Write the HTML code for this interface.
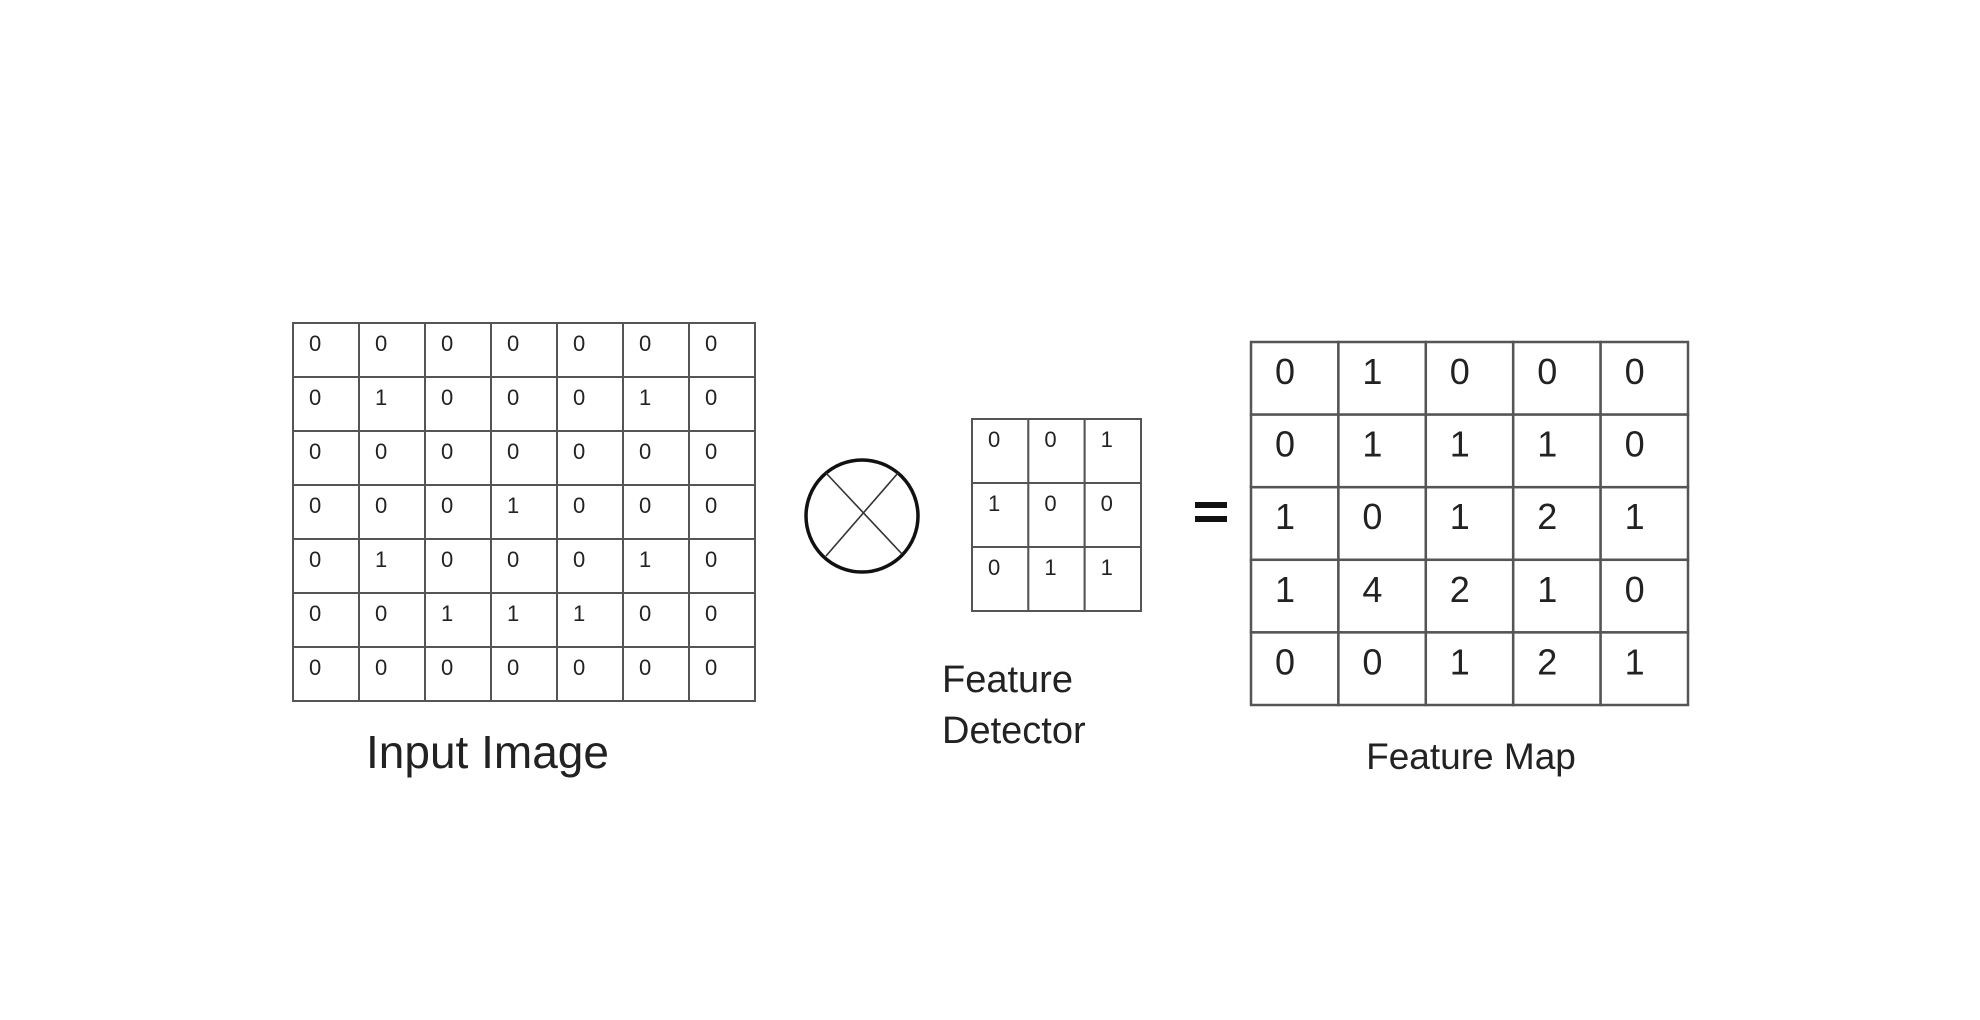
<!DOCTYPE html>
<html><head><meta charset="utf-8"><style>
html,body{margin:0;padding:0;background:#fff;width:1980px;height:1020px;overflow:hidden}
svg{display:block}
text{font-family:"Liberation Sans",sans-serif;fill:#222}
</style></head><body>
<svg id="s" width="1980" height="1020" viewBox="0 0 1980 1020">
<g id="circ">
<circle cx="862" cy="516" r="56" fill="none" stroke="#111" stroke-width="3.5"/>
<line x1="826" y1="473" x2="902" y2="554" stroke="#333" stroke-width="1.6"/>
<line x1="898" y1="473" x2="826" y2="556" stroke="#333" stroke-width="1.6"/>
</g>
<g>
<rect x="1195" y="502" width="32" height="6" fill="#111"/>
<rect x="1195" y="516" width="32" height="6" fill="#111"/>
</g>
<text x="366" y="768" font-size="46">Input Image</text>
<text x="942" y="692" font-size="38">Feature</text>
<text x="942" y="743" font-size="38">Detector</text>
<text x="1471" y="769" font-size="37" text-anchor="middle">Feature Map</text>
</svg>
<script>
const inputValues=[[0,0,0,0,0,0,0],[0,1,0,0,0,1,0],[0,0,0,0,0,0,0],[0,0,0,1,0,0,0],[0,1,0,0,0,1,0],[0,0,1,1,1,0,0],[0,0,0,0,0,0,0]];
const detectorValues=[[0,0,1],[1,0,0],[0,1,1]];
const mapValues=[[0,1,0,0,0],[0,1,1,1,0],[1,0,1,2,1],[1,4,2,1,0],[0,0,1,2,1]];
const NS="http://www.w3.org/2000/svg";
const svg=document.getElementById('s');
function grid(vals,x0,y0,x1,y1,fs,dx,dy,sw,name){
  const g=document.createElementNS(NS,'g');
  
  
  const R=vals.length,C=vals[0].length,cw=(x1-x0)/C,ch=(y1-y0)/R;
  for(let r=0;r<R;r++)for(let c=0;c<C;c++){
    const rc=document.createElementNS(NS,'rect');
    rc.setAttribute('x',x0+c*cw);rc.setAttribute('y',y0+r*ch);
    rc.setAttribute('width',cw);rc.setAttribute('height',ch);
    rc.setAttribute('fill','#fff');rc.setAttribute('stroke','#555');rc.setAttribute('stroke-width',sw);
    
    
    g.appendChild(rc);
    const t=document.createElementNS(NS,'text');
    t.setAttribute('x',x0+c*cw+dx);t.setAttribute('y',y0+r*ch+dy);
    t.setAttribute('font-size',fs);t.textContent=vals[r][c];
    
    
    g.appendChild(t);
  }
  svg.appendChild(g);
}
grid(inputValues,293,323,755,701,22,16,28,2,'input-image-grid');
grid(detectorValues,972,419,1141,611,22,16,28,2,'feature-detector-grid');
grid(mapValues,1251,342,1688,705,36,24,42,2.5,'feature-map-grid');
</script>
</body></html>
